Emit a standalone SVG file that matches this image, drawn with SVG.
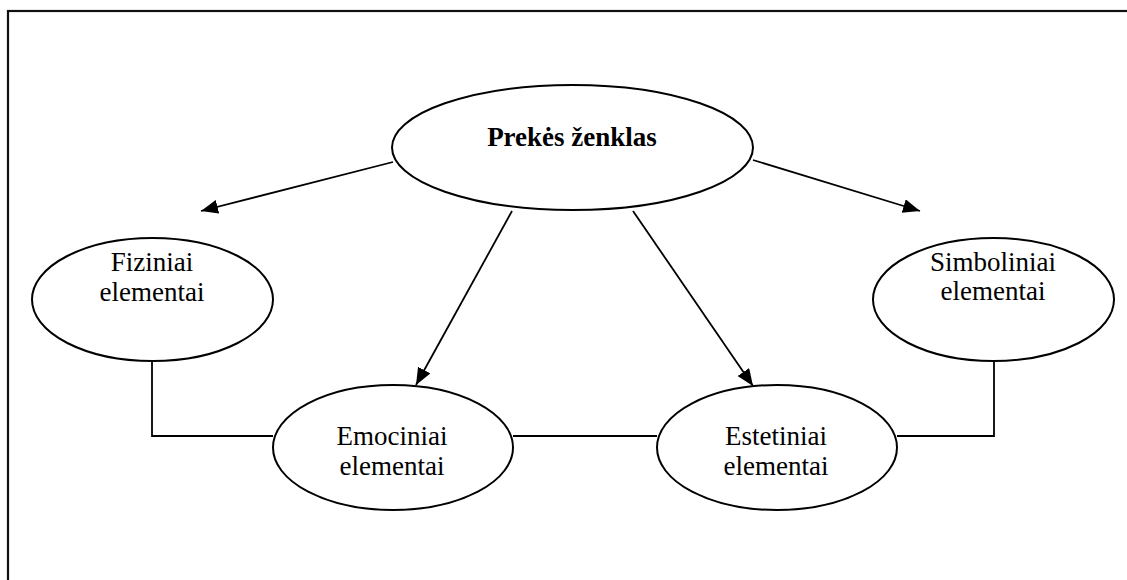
<svg xmlns="http://www.w3.org/2000/svg" width="1127" height="580" viewBox="0 0 1127 580">
  <style>
    .node ellipse { fill: #ffffff; stroke: #000000; stroke-width: 2; }
    .label { font-family: "Liberation Serif", "Times New Roman", serif; font-size: 27px; fill: #000000; text-anchor: middle; }
    .title { font-weight: bold; }
    .conn { fill: none; stroke: #000000; stroke-width: 1.8; }
    .frame { fill: none; stroke: #111111; stroke-width: 2.2; }
  </style>
  <defs>
    <marker id="arrow" markerUnits="userSpaceOnUse" markerWidth="19" markerHeight="15" refX="17" refY="7" orient="auto">
      <path d="M0,0 L17,7 L0,14 Z" fill="#000000"/>
    </marker>
  </defs>

  <rect width="1127" height="580" fill="#ffffff"/>
  <!-- outer frame (continues past the right and bottom edges) -->
  <rect class="frame" x="8" y="11" width="1300" height="700"/>

  <g id="connectors">
    <line class="conn" x1="393" y1="162" x2="201" y2="211" marker-end="url(#arrow)"/>
    <line class="conn" x1="753" y1="160" x2="920" y2="211" marker-end="url(#arrow)"/>
    <line class="conn" x1="512" y1="211" x2="416" y2="385" marker-end="url(#arrow)"/>
    <line class="conn" x1="633" y1="211" x2="753" y2="386" marker-end="url(#arrow)"/>
    <polyline class="conn" points="152,361 152,436 273,436"/>
    <line class="conn" x1="513" y1="436" x2="657" y2="436"/>
    <polyline class="conn" points="897,436 994,436 994,361"/>
  </g>

  <g id="node-prekes-zenklas" class="node">
    <ellipse cx="572.5" cy="147.5" rx="180.5" ry="62.5"/>
    <text class="label title" x="572" y="146">Prekės ženklas</text>
  </g>

  <g id="node-fiziniai" class="node">
    <ellipse cx="152.5" cy="299.5" rx="120.5" ry="61.5"/>
    <text class="label" x="152" y="271">Fiziniai</text>
    <text class="label" x="152" y="301">elementai</text>
  </g>

  <g id="node-simboliniai" class="node">
    <ellipse cx="993.5" cy="299.5" rx="120.5" ry="61.5"/>
    <text class="label" x="993" y="271">Simboliniai</text>
    <text class="label" x="993" y="300">elementai</text>
  </g>

  <g id="node-emociniai" class="node">
    <ellipse cx="393" cy="447.5" rx="120" ry="62.5"/>
    <text class="label" x="392" y="445">Emociniai</text>
    <text class="label" x="392" y="475">elementai</text>
  </g>

  <g id="node-estetiniai" class="node">
    <ellipse cx="777" cy="447.5" rx="120" ry="62.5"/>
    <text class="label" x="776" y="445">Estetiniai</text>
    <text class="label" x="776" y="475">elementai</text>
  </g>
</svg>
